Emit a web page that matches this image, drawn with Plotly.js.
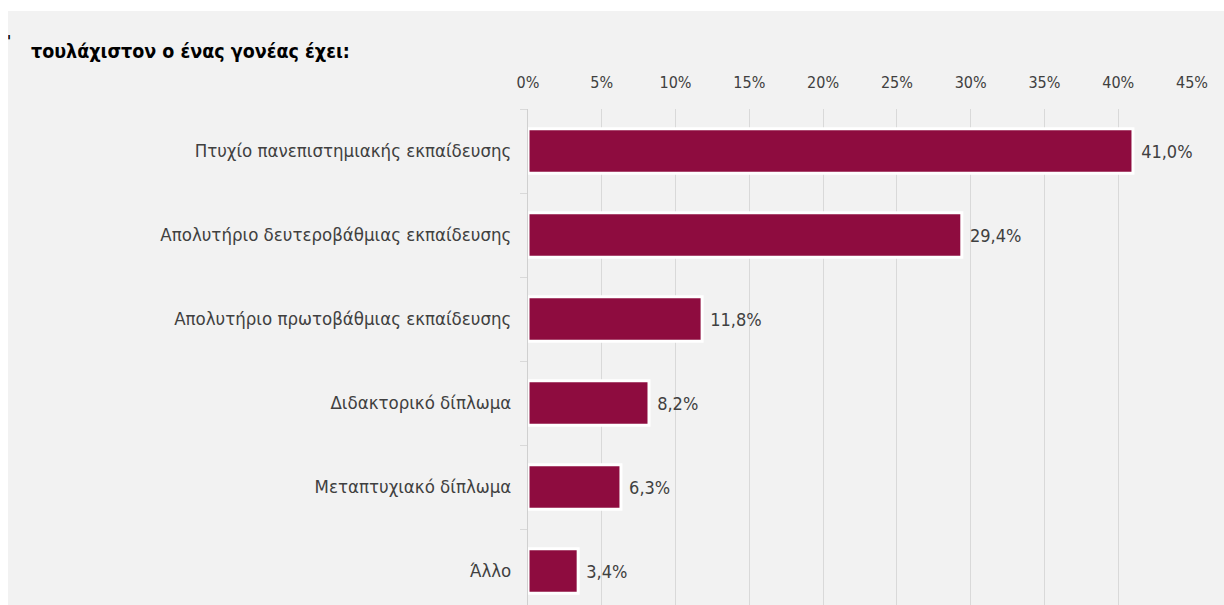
<!DOCTYPE html>
<html>
<head>
<meta charset="utf-8">
<script src="https://cdn.plot.ly/plotly-3.0.1.min.js"></script>
<style>
  html, body { margin: 0; padding: 0; background: #ffffff; overflow: hidden; }
  #chart { position: absolute; left: 8px; top: 11px; width: 1216px; height: 610px; }
</style>
</head>
<body>
<div id="chart"></div>
<script>
// categories top to bottom, share of respondents (%)
var categories = [
    "Πτυχίο πανεπιστημιακής εκπαίδευσης",
    "Απολυτήριο δευτεροβάθμιας εκπαίδευσης",
    "Απολυτήριο πρωτοβάθμιας εκπαίδευσης",
    "Διδακτορικό δίπλωμα",
    "Μεταπτυχιακό δίπλωμα",
    "Άλλο"
]
var values = [41.0, 29.4, 11.8, 8.2, 6.3, 3.4]
var tickVals = [0, 5, 10, 15, 20, 25, 30, 35, 40, 45]
var tickText = ["0%", "5%", "10%", "15%", "20%", "25%", "30%", "35%", "40%", "45%"]

var font = "'DejaVu Sans Condensed', 'Liberation Sans Narrow', sans-serif"

var data = [
    {
        type: "bar",
        orientation: "h",
        y: categories,
        x: values,
        marker: {
            color: "#8e0c3f",
            line: { color: "#ffffff", width: 3 }
        },
        texttemplate: " %{x:.1f}%",
        textposition: "outside",
        cliponaxis: false,
        textfont: { family: font, size: 18, color: "#404040" },
        hoverinfo: "skip"
    }
]

var layout = {
    width: 1216,
    height: 610,
    paper_bgcolor: "#f2f2f2",
    plot_bgcolor: "#f2f2f2",
    separators: ",.",
    bargap: 0.47,
    showlegend: false,
    margin: { l: 520, r: 32, t: 98, b: 8, pad: 0 },
    font: { family: font, color: "#404040" },
    xaxis: {
        side: "top",
        range: [0, 45],
        tickvals: tickVals,
        ticktext: tickText,
        tickfont: { family: font, size: 16, color: "#404040" },
        showgrid: true,
        gridcolor: "#d9d9d9",
        gridwidth: 1,
        zeroline: false,
        showline: false,
        ticks: "",
        ticklabelstandoff: 17,
        fixedrange: true
    },
    yaxis: {
        autorange: "reversed",
        type: "category",
        tickfont: { family: font, size: 18.5, color: "#404040" },
        showline: true,
        linecolor: "#d0d0d0",
        linewidth: 1,
        ticks: "outside",
        tickson: "boundaries",
        ticklen: 7,
        tickcolor: "#d9d9d9",
        showgrid: false,
        zeroline: false,
        ticklabelstandoff: 12,
        fixedrange: true
    },
    annotations: [
        {
            text: "<b>τουλάχιστον ο ένας γονέας έχει:</b>",
            xref: "paper", yref: "paper",
            x: -520 / 664 + 21 / 664, y: 1 + 57 / 504,
            xanchor: "left", yanchor: "middle",
            showarrow: false,
            font: { family: "'DejaVu Sans Condensed', sans-serif", size: 19.5, color: "#000000" }
        },
        {
            text: "<b>'</b>",
            xref: "paper", yref: "paper",
            x: -520 / 664 - 3 / 664, y: 1 + 67 / 504,
            xanchor: "left", yanchor: "middle",
            showarrow: false,
            font: { family: font, size: 15, color: "#000000" }
        }
    ]
}

Plotly.newPlot("chart", data, layout, { displayModeBar: false, staticPlot: true })
</script>
</body>
</html>
